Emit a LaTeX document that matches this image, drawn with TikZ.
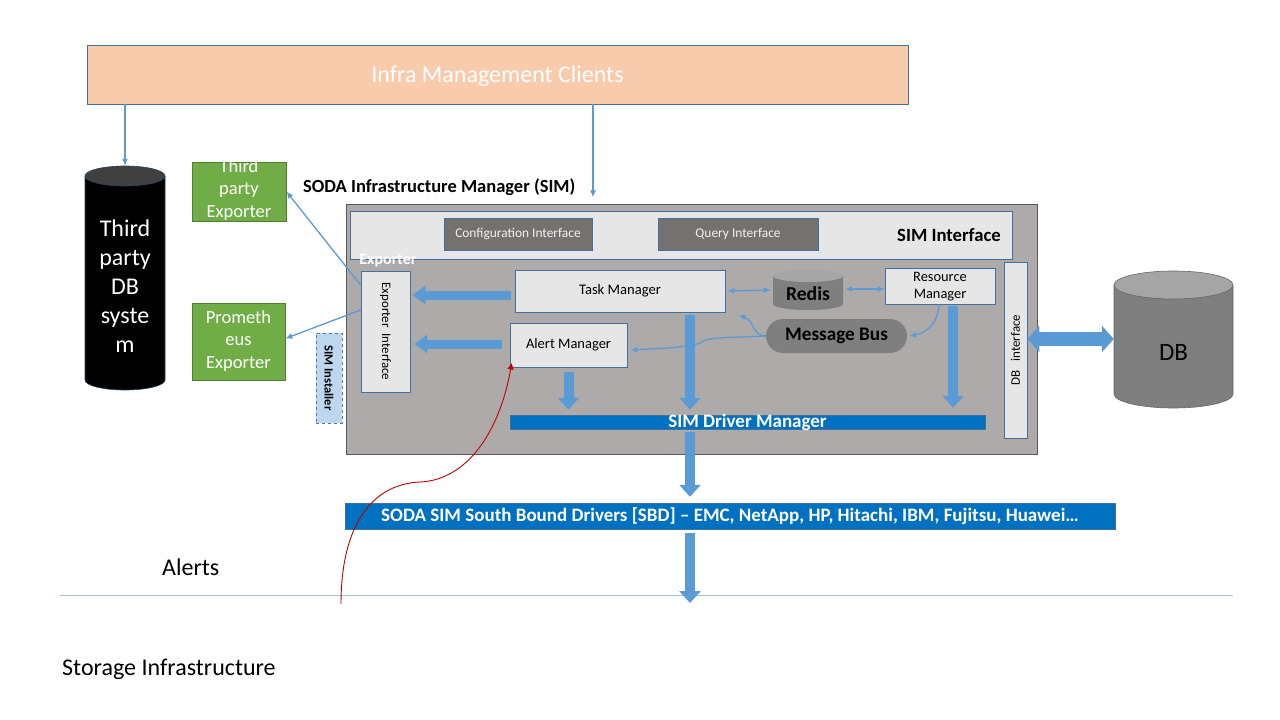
\documentclass[tikz,border=0pt]{standalone}
\usepackage{fontspec}
\setmainfont{Carlito}
\usetikzlibrary{arrows.meta}
\definecolor{peach}{HTML}{F8CBAD}
\definecolor{bordb}{HTML}{41719C}
\definecolor{simgray}{HTML}{AEAAAA}
\definecolor{lightg}{HTML}{E7E6E6}
\definecolor{darkif}{HTML}{767171}
\definecolor{abl}{HTML}{5B9BD5}
\definecolor{barbl}{HTML}{0070C0}
\definecolor{grn}{HTML}{70AD47}
\definecolor{grnb}{HTML}{507E32}
\definecolor{midg}{HTML}{7F7F7F}
\definecolor{topg}{HTML}{A5A5A5}
\definecolor{linebl}{HTML}{9DC3E6}
\definecolor{instfill}{HTML}{BDD7EE}
\definecolor{darkred}{HTML}{C00000}
\newcommand\fsz[2]{\fontsize{#1}{#2}\selectfont}
\tikzset{
  lbox/.style={draw=bordb, line width=0.7pt, fill=lightg, inner sep=0pt, align=center},
  ifbox/.style={draw=bordb, line width=0.7pt, fill=darkif, text=white!95!black, inner sep=0pt, font=\fsz{13.4}{15}},
  gbox/.style={draw=grnb, line width=0.7pt, fill=grn, inner sep=0pt},
  gtext/.style={text=white, inner sep=0pt, align=center, font=\fsz{18.5}{22.5}},
  bar/.style={fill=barbl, draw=bordb, line width=0.5pt, text=white, inner sep=0pt, font=\bfseries\fsz{19}{21}},
  thin/.style={draw=abl, line width=1.3pt, -{Latex[length=7pt,width=6pt]}},
  blk/.style={draw=abl, line width=10pt, -{Triangle[length=12pt,width=21pt]}},
  blkh/.style={draw=abl, line width=9pt, -{Triangle[length=13pt,width=18pt]}},
}
\begin{document}
\begin{tikzpicture}[x=1pt,y=-1pt]
\useasboundingbox (0,0) rectangle (1280,720);
\fill[white] (0,0) rectangle (1280,720);

% top clients
\node[draw=bordb, line width=0.7pt, fill=peach, minimum width=821pt, minimum height=59pt, inner sep=0pt] (infra) at (497.5,74.5) {};
\node[text=white, font=\fsz{24}{28}, inner sep=0pt] (infratxt) at (497.5,76) {Infra Management Clients};

% third party DB cylinder
\fill[black] (85,176) -- (85,380) arc[start angle=180,end angle=360,x radius=40pt,y radius=10pt] -- (165,176) -- cycle;
\draw[bordb!60!black, line width=0.6pt] (85,176) -- (85,380) arc[start angle=180,end angle=360,x radius=40pt,y radius=10pt] -- (165,176);
\draw[bordb!60!black, line width=0.6pt, fill=black!75] (125,176) ellipse[x radius=40pt, y radius=10pt];
\node[inner sep=0pt, minimum width=80pt, minimum height=224pt] (tpdb) at (125,278) {};
\node[text=white, align=center, font=\fsz{24}{29}, inner sep=0pt] (tpdbtxt) at (125,286) {Third\\party\\DB\\syste\\m};

% green exporters
\node[gbox, minimum width=94pt, minimum height=59pt] (tpe) at (239,191.5) {};
\node[gtext] (tpetxt) at (239,190) {Third\\party\\Exporter};
\node[gbox, minimum width=93pt, minimum height=77pt] (prom) at (238.5,341.5) {};
\node[gtext] (promtxt) at (238.5,341) {Prometh\\eus\\Exporter};

% SIM title
\node[anchor=west, font=\bfseries\fsz{18.5}{20}, inner sep=0pt] (simtitle) at (303,187) {SODA Infrastructure Manager (SIM)};

% SIM main box
\node[draw=black!65, line width=0.7pt, fill=simgray, minimum width=691pt, minimum height=250pt, inner sep=0pt] (sim) at (691.5,329) {};
\node[lbox, minimum width=662pt, minimum height=48pt] (simif) at (681,235) {};
\node[anchor=east, font=\bfseries\fsz{18.7}{20}, inner sep=0pt] (simiflbl) at (1001,235) {SIM Interface};
\node[ifbox, minimum width=148pt, minimum height=32pt] (conf) at (518,234) {Configuration Interface};
\node[ifbox, minimum width=160pt, minimum height=32pt] (query) at (738,234) {Query Interface};

\node[text=white, font=\bfseries\fsz{16}{18}, inner sep=0pt] (explbl) at (388,261) {Exporter};
\node[lbox, minimum width=49pt, minimum height=121pt] (expint) at (385.5,331.5) {};
\node[rotate=-90, font=\fsz{12.9}{15}, inner sep=0pt] at (expint.center) {Exporter\ \ Interface};

\node[draw=abl!80!black, dashed, line width=0.7pt, fill=instfill, minimum width=26pt, minimum height=90pt, inner sep=0pt] (inst) at (329,378) {};
\node[rotate=-90, font=\bfseries\fsz{12.5}{14}, inner sep=0pt] at (inst.center) {SIM Installer};

\node[lbox, minimum width=210pt, minimum height=42pt, font=\fsz{14.6}{17}] (task) at (620,291) {Task Manager};
\node[lbox, minimum width=117pt, minimum height=44pt, font=\fsz{14.5}{17}] (alert) at (568.5,345) {Alert Manager};
\node[lbox, minimum width=110pt, minimum height=36pt] (res) at (940,286) {};
\node[align=center, inner sep=0pt, font=\fsz{14.4}{17}] (restxt) at (940,287) {Resource\\Manager};

% Redis cylinder
\fill[midg] (773,276) -- (773,304) arc[start angle=180,end angle=360,x radius=35pt,y radius=6pt] -- (843,276) -- cycle;
\fill[topg] (808,276) ellipse[x radius=35pt, y radius=6pt];
\node[inner sep=0pt, minimum width=70pt, minimum height=40pt] (redis) at (808,290) {};
\node[font=\bfseries\fsz{19.7}{21}, inner sep=0pt] (redistxt) at (808,294) {Redis};

\node[fill=midg, rounded corners=17pt, minimum width=141pt, minimum height=34pt, inner sep=0pt, font=\bfseries\fsz{19.2}{21}] (mbus) at (836.5,336) {Message Bus};

\node[lbox, minimum width=23pt, minimum height=176pt] (dbi) at (1015.5,350) {};
\node[rotate=90, font=\fsz{13}{15}, inner sep=0pt] at (dbi.center) {DB\ \ \ interface};

\node[bar, minimum width=475pt, minimum height=14pt, text height=11pt, text depth=1pt] (sdm) at (747.5,422) {SIM Driver Manager};
\node[bar, minimum width=770pt, minimum height=26pt] (sbd) at (730,516) {SODA SIM South Bound Drivers [SBD] – EMC, NetApp, HP, Hitachi, IBM, Fujitsu, Huawei…};

% DB cylinder
\fill[midg] (1114,285) -- (1114,394) arc[start angle=180,end angle=360,x radius=59.5pt,y radius=14pt] -- (1233,285) -- cycle;
\draw[black!60, line width=0.6pt] (1114,285) -- (1114,394) arc[start angle=180,end angle=360,x radius=59.5pt,y radius=14pt] -- (1233,285);
\draw[black!60, line width=0.6pt, fill=topg] (1173.5,285) ellipse[x radius=59.5pt, y radius=14pt];
\node[inner sep=0pt, minimum width=119pt, minimum height=140pt] (db) at (1173.5,338) {};
\node[font=\fsz{25}{30}, inner sep=0pt] (dbtxt) at (1173.5,352) {DB};

% bottom texts and line
\node[anchor=west, font=\fsz{24}{28}, inner sep=0pt] (alerts) at (162,567) {Alerts};
\node[anchor=west, font=\fsz{24}{28}, inner sep=0pt] (stor) at (62,669) {Storage Infrastructure};
\coordinate (lineL) at (60,595);
\coordinate (lineR) at (1233,595);
\draw[linebl, line width=1pt] (lineL) -- (lineR);

% thin connectors
\draw[thin] (infra.south -| tpdb.north) -- (tpdb.north);
\draw[thin] ([xshift=95.5pt]infra.south) -- ++(0,93);
\draw[thin] ([yshift=46.5pt]expint.west) -- (tpe.east);
\draw[thin] ([yshift=21.5pt]expint.west) -- ([yshift=3pt]prom.east);
\draw[thin, {Latex[length=7pt,width=6pt]}-{Latex[length=7pt,width=6pt]}] ([xshift=2pt]task.east) -- ([xshift=-2pt]redis.west);
\draw[thin, {Latex[length=7pt,width=6pt]}-{Latex[length=7pt,width=6pt]}] ([xshift=2pt,yshift=1pt]redis.east) -- ([yshift=1pt]redis.east -| res.west);
\draw[thin] (mbus.west) .. controls (752,336) and (754,320) .. ([xshift=13pt,yshift=-3pt]task.south east);
\draw[thin] (mbus.west) .. controls (720,338) and (708,337) .. (700,343) .. controls (690,347) and (670,348) .. ([xshift=3pt,yshift=-5pt]alert.east);
\draw[thin] ([xshift=-1pt]res.south) .. controls (938,325) and (925,333) .. ([xshift=2pt]mbus.east);

% block arrows
\draw[blkh] ([xshift=-4pt,yshift=-4pt]task.west) -- ([xshift=2pt,yshift=-4pt]expint.east |- task.west);
\draw[blkh] ([xshift=-8pt,yshift=1pt]alert.west) -- ([xshift=4pt,yshift=1pt]expint.east |- alert.west);
\draw[blk] ([yshift=-5pt]alert.south) -- ([yshift=5pt]alert.south |- sdm.north);
\draw[blk] ([xshift=70pt,yshift=-3pt]task.south) -- ([xshift=70pt,yshift=5pt]task.south |- sdm.north);
\draw[blk] ([xshift=13pt,yshift=-2pt]res.south) -- ([xshift=13pt,yshift=7pt]res.south |- sdm.north);
\draw[blk] ([xshift=-57.5pt,yshift=-3pt]sdm.south) -- ([xshift=-57.5pt,yshift=6pt]sdm.south |- sbd.north);
\draw[blk] ([xshift=-57.5pt,yshift=-4pt]sdm.south |- sbd.south) -- ([xshift=-57.5pt,yshift=-8pt]sdm.south |- lineL);
\draw[draw=abl, line width=14pt, {Triangle[length=12pt,width=26pt]}-{Triangle[length=12pt,width=26pt]}] ([yshift=11pt]dbi.east) -- ([yshift=11pt]dbi.east -| db.west);

% red alert curve
\coordinate (alertsrc) at (341,604);
\draw[darkred, line width=0.9pt, -{Triangle[length=6pt,width=6pt]}] (alertsrc) .. controls (341,525) and (372,484) .. (420,482) .. controls (468,480) and (500,430) .. ([xshift=2pt,yshift=4pt]alert.south west);
\end{tikzpicture}
\end{document}
